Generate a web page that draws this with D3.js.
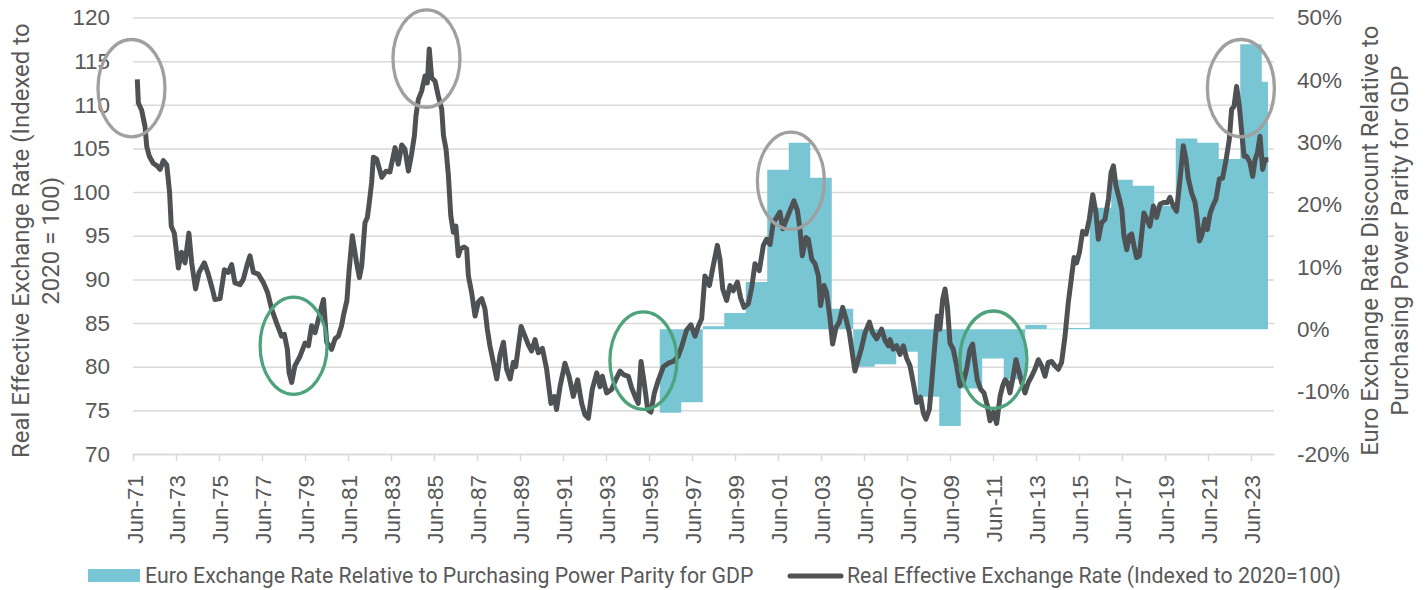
<!DOCTYPE html>
<html>
<head>
<meta charset="utf-8">
<script src="https://cdn.jsdelivr.net/npm/d3@7"></script>
<style>
    body { margin: 0; background: #fff; }
    svg { display: block; font-family: Roboto, "Open Sans", sans-serif; }
</style>
</head>
<body>
<svg id="chart"></svg>
<script>
// real effective exchange rate, index 2020 = 100 (decimal year, value)
const reerYears = [
    1971.70, 1971.75, 1971.90, 1972.06, 1972.14, 1972.26, 1972.44, 1972.62, 1972.76, 1972.91,
    1973.07, 1973.20, 1973.28, 1973.42, 1973.61, 1973.76, 1973.92, 1974.10, 1974.23, 1974.41,
    1974.57, 1974.82, 1975.00, 1975.19, 1975.31, 1975.55, 1975.75, 1975.93, 1976.09, 1976.24,
    1976.48, 1976.63, 1976.79, 1976.94, 1977.10, 1977.33, 1977.57, 1977.76, 1977.95, 1978.18,
    1978.41, 1978.54, 1978.68, 1978.76, 1978.88, 1979.03, 1979.27, 1979.50, 1979.66, 1979.81,
    1979.97, 1980.12, 1980.36, 1980.51, 1980.74, 1980.90, 1981.05, 1981.20, 1981.30, 1981.45,
    1981.55, 1981.70, 1981.90, 1982.03, 1982.14, 1982.29, 1982.40, 1982.49, 1982.60, 1982.68,
    1982.83, 1983.07, 1983.27, 1983.45, 1983.69, 1983.84, 1984.00, 1984.15, 1984.31, 1984.46,
    1984.59, 1984.66, 1984.77, 1984.93, 1985.08, 1985.19, 1985.28, 1985.39, 1985.55, 1985.70,
    1985.86, 1985.94, 1986.06, 1986.17, 1986.28, 1986.40, 1986.52, 1986.63, 1986.74, 1986.90,
    1987.02, 1987.10, 1987.25, 1987.41, 1987.56, 1987.72, 1987.87, 1987.98, 1988.10, 1988.26,
    1988.42, 1988.57, 1988.73, 1988.88, 1989.04, 1989.19, 1989.30, 1989.55, 1989.73, 1989.89,
    1990.04, 1990.20, 1990.35, 1990.54, 1990.74, 1990.94, 1991.10, 1991.20, 1991.36, 1991.59,
    1991.78, 1991.98, 1992.18, 1992.37, 1992.52, 1992.68, 1992.86, 1993.07, 1993.22, 1993.33,
    1993.53, 1993.76, 1993.95, 1994.15, 1994.31, 1994.54, 1994.69, 1994.85, 1995.00, 1995.13,
    1995.28, 1995.44, 1995.59, 1995.75, 1995.94, 1996.17, 1996.40, 1996.63, 1996.86, 1997.02,
    1997.25, 1997.45, 1997.64, 1997.79, 1997.95, 1998.10, 1998.31, 1998.49, 1998.68, 1998.80,
    1998.93, 1999.11, 1999.27, 1999.42, 1999.61, 1999.76, 1999.92, 2000.12, 2000.28, 2000.43,
    2000.63, 2000.82, 2000.97, 2001.13, 2001.28, 2001.44, 2001.59, 2001.72, 2001.93, 2002.06,
    2002.24, 2002.40, 2002.52, 2002.63, 2002.80, 2002.91, 2003.07, 2003.22, 2003.38, 2003.48,
    2003.64, 2003.76, 2003.92, 2004.04, 2004.20, 2004.35, 2004.51, 2004.66, 2004.82, 2004.93,
    2005.08, 2005.24, 2005.39, 2005.55, 2005.75, 2005.90, 2006.09, 2006.32, 2006.48, 2006.63,
    2006.71, 2006.86, 2007.02, 2007.17, 2007.33, 2007.48, 2007.64, 2007.79, 2007.95, 2008.13,
    2008.26, 2008.38, 2008.54, 2008.65, 2008.80, 2008.91, 2009.03, 2009.16, 2009.27, 2009.38,
    2009.50, 2009.65, 2009.81, 2009.96, 2010.12, 2010.27, 2010.43, 2010.55, 2010.66, 2010.77,
    2010.93, 2011.08, 2011.24, 2011.36, 2011.52, 2011.67, 2011.83, 2011.95, 2012.06, 2012.17,
    2012.29, 2012.44, 2012.57, 2012.68, 2012.83, 2012.99, 2013.14, 2013.30, 2013.45, 2013.61,
    2013.76, 2013.92, 2014.07, 2014.23, 2014.38, 2014.54, 2014.69, 2014.85, 2015.00, 2015.16,
    2015.27, 2015.39, 2015.52, 2015.67, 2015.83, 2015.98, 2016.14, 2016.29, 2016.40, 2016.55,
    2016.71, 2016.87, 2016.99, 2017.10, 2017.22, 2017.38, 2017.49, 2017.59, 2017.72, 2017.84,
    2017.95, 2018.06, 2018.18, 2018.31, 2018.42, 2018.52, 2018.65, 2018.80, 2018.96, 2019.11,
    2019.27, 2019.42, 2019.61, 2019.73, 2019.89, 2020.04, 2020.20, 2020.35, 2020.48, 2020.58,
    2020.74, 2020.90, 2021.00, 2021.10, 2021.21, 2021.36, 2021.47, 2021.60, 2021.72, 2021.87,
    2022.03, 2022.18, 2022.34, 2022.49, 2022.60, 2022.71, 2022.83, 2022.96, 2023.07, 2023.18,
    2023.30, 2023.45, 2023.58, 2023.69, 2023.80, 2023.92, 2024.04, 2024.15, 2024.31
];
const reerValues = [
    112.9, 110.2, 109.4, 107.5, 105.2, 104.1, 103.3, 103.0, 102.6, 103.6,
    103.1, 100.0, 96.1, 95.3, 91.3, 93.1, 91.9, 95.3, 91.9, 88.9,
    90.8, 91.9, 90.6, 88.9, 87.7, 87.8, 91.1, 90.8, 91.7, 89.6,
    89.4, 90.0, 91.5, 92.7, 90.8, 90.6, 89.6, 88.5, 86.6, 85.0,
    83.5, 83.7, 82.0, 79.3, 78.2, 80.1, 81.2, 82.7, 82.4, 84.7,
    83.9, 85.4, 87.7, 82.8, 82.0, 83.2, 83.5, 84.7, 86.0, 87.6,
    91.0, 95.0, 91.9, 90.2, 91.6, 96.5, 97.1, 98.8, 101.1, 104.0,
    103.8, 101.7, 102.4, 102.3, 105.1, 103.2, 105.4, 104.9, 102.4, 104.4,
    106.5, 108.7, 110.6, 111.6, 113.3, 112.5, 116.4, 113.1, 112.7, 111.0,
    109.5, 106.5, 104.9, 101.9, 97.3, 95.4, 96.1, 92.7, 93.5, 93.7,
    93.5, 90.4, 88.5, 85.8, 87.4, 87.8, 86.6, 84.3, 82.4, 80.5,
    78.6, 81.3, 82.8, 79.7, 78.6, 80.5, 80.0, 84.6, 83.5, 82.5,
    81.8, 83.1, 81.6, 82.1, 79.7, 75.8, 76.6, 75.1, 77.7, 80.4,
    78.9, 76.6, 78.5, 75.8, 74.5, 74.1, 77.4, 79.3, 77.7, 78.9,
    77.0, 77.4, 78.5, 79.5, 79.1, 78.9, 77.6, 76.6, 75.8, 80.6,
    78.1, 75.1, 74.8, 77.0, 78.5, 80.0, 80.4, 80.6, 81.2, 82.3,
    84.2, 84.8, 83.5, 84.6, 85.5, 90.4, 89.3, 91.6, 93.9, 92.3,
    88.9, 87.6, 89.3, 88.7, 89.7, 87.9, 86.8, 87.2, 89.1, 91.8,
    91.0, 93.9, 94.6, 94.0, 96.5, 97.1, 97.7, 95.8, 97.1, 97.9,
    99.0, 97.9, 95.8, 92.7, 94.8, 94.6, 92.3, 91.8, 90.4, 87.0,
    89.3, 88.5, 85.5, 82.6, 84.5, 85.1, 86.8, 85.5, 83.9, 82.0,
    79.5, 80.9, 82.2, 83.9, 85.1, 83.9, 83.2, 84.3, 83.0, 82.4,
    83.1, 82.0, 82.4, 81.4, 82.4, 81.0, 80.1, 78.2, 75.9, 76.5,
    74.7, 74.0, 75.1, 78.2, 82.7, 85.8, 84.3, 87.7, 88.9, 86.9,
    82.7, 82.0, 80.1, 77.8, 78.2, 79.7, 82.0, 82.6, 80.5, 78.5,
    77.4, 77.0, 75.5, 73.8, 74.8, 73.5, 76.6, 77.8, 78.5, 78.2,
    77.0, 78.9, 80.8, 79.7, 78.2, 77.0, 78.2, 78.9, 79.7, 80.8,
    80.1, 78.9, 80.5, 80.6, 80.1, 79.7, 80.5, 83.5, 87.3, 90.4,
    92.5, 91.9, 93.1, 95.5, 95.2, 96.9, 99.7, 97.6, 94.6, 96.5,
    96.9, 99.2, 102.2, 103.0, 100.7, 99.2, 98.0, 95.0, 93.4, 95.0,
    95.2, 93.8, 92.5, 92.7, 95.3, 97.6, 96.9, 96.1, 98.4, 97.1,
    98.6, 98.8, 98.8, 99.4, 98.4, 97.8, 101.5, 105.3, 103.7, 101.6,
    99.9, 98.8, 96.9, 94.4, 95.0, 96.9, 95.7, 97.6, 98.4, 99.2,
    101.5, 101.6, 103.7, 106.0, 109.5, 109.8, 112.1, 109.8, 106.8, 104.1,
    104.1, 103.4, 101.8, 103.7, 104.5, 106.4, 102.6, 103.7, 103.7
];

// euro exchange rate relative to PPP for GDP, one value per calendar year
const pppYears = [1996, 1997, 1998, 1999, 2000, 2001, 2002, 2003, 2004, 2005,
    2006, 2007, 2008, 2009, 2010, 2011, 2012, 2013, 2014, 2015,
    2016, 2017, 2018, 2019, 2020, 2021, 2022, 2023, 2024];
const pppValues = [-0.134, -0.117, 0.005, 0.026, 0.076, 0.256, 0.299, 0.243, 0.033, -0.060,
    -0.056, -0.036, -0.108, -0.155, -0.095, -0.047, -0.080, 0.007, 0.001, 0.002,
    0.195, 0.240, 0.230, 0.198, 0.306, 0.299, 0.273, 0.457, 0.397];
const pppLastYearEnd = 2024.29;

// axis ticks
const xTickYears = d3.range(1971, 2024, 2);
const leftTicks = [70, 75, 80, 85, 90, 95, 100, 105, 110, 115, 120];
const rightTicks = [-0.2, -0.1, 0, 0.1, 0.2, 0.3, 0.4, 0.5];

// circled turning points (year, index value, kind)
const markYears = [1971.43, 1985.15, 1978.97, 1995.24, 2002.10, 2011.52, 2023.03];
const markValues = [111.9, 115.3, 82.4, 80.7, 101.3, 80.8, 111.9];
const markKinds = ['high', 'high', 'low', 'low', 'high', 'low', 'high'];

// texts
const leftTitle = ['Real Effective Exchange Rate (Indexed to', '2020 = 100)'];
const rightTitle = ['Euro Exchange Rate Discount Relative to', 'Purchasing Power Parity for GDP'];
const areaLabel = 'Euro Exchange Rate Relative to Purchasing Power Parity for GDP';
const lineLabel = 'Real Effective Exchange Rate (Indexed to 2020=100)';

class ReerChart {
    constructor(_config, _data) {
        this.data = _data;

        // config object with defaults
        this.config = {
            parentElement: _config.parentElement || 'body',
            width: _config.width || 1425,
            height: _config.height || 590,
            margin: _config.margin || { top: 17.5, right: 151, bottom: 136, left: 133 }
        };

        this.initVis();
    }

    initVis() {
        const that = this;
        const m = that.config.margin;

        that.boundedWidth = that.config.width - m.left - m.right;
        that.boundedHeight = that.config.height - m.top - m.bottom;

        // x is in decimal years, Jun-71 sits on the left edge
        that.xScale = d3.scaleLinear()
            .domain([1971.5, 2024.57])
            .range([0, that.boundedWidth]);

        that.yLeft = d3.scaleLinear()
            .domain([70, 120])
            .range([that.boundedHeight, 0]);

        that.yRight = d3.scaleLinear()
            .domain([-0.2, 0.5])
            .range([that.boundedHeight, 0]);

        that.colors = { area: '#78c5d4', line: '#4f5255', text: '#595959', grid: '#d9d9d9',
            high: '#a0a0a0', low: '#4fa37c' };

        that.wrapper = d3.select(that.config.parentElement)
            .attr('width', that.config.width)
            .attr('height', that.config.height);

        that.bounds = that.wrapper.append('g')
            .attr('transform', `translate(${m.left}, ${m.top})`);

        that.gridG = that.bounds.append('g').attr('class', 'grid');
        that.areaG = that.bounds.append('g').attr('class', 'area');
        that.xAxisG = that.bounds.append('g')
            .attr('transform', `translate(0, ${that.boundedHeight})`);
        that.yLeftG = that.bounds.append('g');
        that.yRightG = that.bounds.append('g')
            .attr('transform', `translate(${that.boundedWidth}, 0)`);
        that.lineG = that.bounds.append('g').attr('class', 'line');
        that.markG = that.bounds.append('g').attr('class', 'marks');
        that.legendG = that.wrapper.append('g').attr('class', 'legend');
    }

    updateVis() {
        const that = this;

        that.lineData = d3.zip(that.data.reerYears, that.data.reerValues)
            .map(([year, value]) => ({ year, value }));

        // last year only runs to the latest month, so close the step there
        const vals = that.data.pppValues;
        that.areaData = d3.zip(that.data.pppYears, vals)
            .map(([year, value]) => ({ year, value }));
        that.areaData.push({ year: that.data.pppLastYearEnd, value: vals[vals.length - 1] });

        that.markData = that.data.markYears.map((year, i) => ({
            year, value: that.data.markValues[i], kind: that.data.markKinds[i]
        }));

        that.renderVis();
    }

    renderVis() {
        const that = this;
        const c = that.colors;

        // horizontal gridlines from the left axis
        that.gridG.call(d3.axisLeft(that.yLeft)
                .tickValues(leftTicks)
                .tickSize(-that.boundedWidth)
                .tickFormat(''))
            .call(g => g.select('.domain').remove())
            .selectAll('line')
            .attr('stroke', c.grid)
            .attr('stroke-width', 1.5);

        // step area on the right axis
        const area = d3.area()
            .x(d => that.xScale(d.year))
            .y0(that.yRight(0))
            .y1(d => that.yRight(d.value))
            .curve(d3.curveStepAfter);

        that.areaG.selectAll('path')
            .data([that.areaData])
            .join('path')
            .attr('d', area)
            .attr('fill', c.area);

        // x axis with rotated labels
        that.xAxisG.call(d3.axisBottom(that.xScale)
                .tickValues(xTickYears.map(y => y + 0.5))
                .tickFormat(d => 'Jun-' + String(Math.floor(d)).slice(2))
                .tickSize(7)
                .tickSizeOuter(0))
            .call(g => g.select('.domain').attr('stroke', c.grid).attr('stroke-width', 1.5))
            .call(g => g.selectAll('.tick line').attr('stroke', c.grid).attr('stroke-width', 1.5));

        that.xAxisG.selectAll('.tick text')
            .attr('transform', 'rotate(-90)')
            .attr('text-anchor', 'end')
            .attr('x', -21)
            .attr('y', 0)
            .attr('dy', '0.4em')
            .attr('fill', c.text)
            .style('font-size', '22.5px');

        that.yLeftG.call(d3.axisLeft(that.yLeft)
                .tickValues(leftTicks)
                .tickSize(0)
                .tickPadding(23))
            .call(g => g.select('.domain').remove())
            .selectAll('text')
            .attr('fill', c.text)
            .style('font-size', '22.5px');

        that.yRightG.call(d3.axisRight(that.yRight)
                .tickValues(rightTicks)
                .tickFormat(d => Math.round(d * 100) + '%')
                .tickSize(0)
                .tickPadding(23))
            .call(g => g.select('.domain').remove())
            .selectAll('text')
            .attr('fill', c.text)
            .style('font-size', '22.5px');

        // REER line
        const line = d3.line()
            .x(d => that.xScale(d.year))
            .y(d => that.yLeft(d.value));

        that.lineG.selectAll('path')
            .data([that.lineData])
            .join('path')
            .attr('d', line)
            .attr('fill', 'none')
            .attr('stroke', c.line)
            .attr('stroke-width', 5)
            .attr('stroke-linejoin', 'round');

        // circles around highs and lows
        that.markG.selectAll('ellipse')
            .data(that.markData)
            .join('ellipse')
            .attr('cx', d => that.xScale(d.year))
            .attr('cy', d => that.yLeft(d.value))
            .attr('rx', 33.5)
            .attr('ry', 48.7)
            .attr('fill', 'none')
            .attr('stroke', d => c[d.kind])
            .attr('stroke-width', 3.3);

        // axis titles
        const midY = that.config.margin.top + that.boundedHeight / 2 + 5;
        that.wrapper.selectAll('text.left-title')
            .data(leftTitle)
            .join('text')
            .attr('class', 'left-title')
            .attr('transform', (d, i) => `translate(${29 + i * 29.5}, ${midY}) rotate(-90)`)
            .attr('text-anchor', 'middle')
            .attr('fill', c.text)
            .style('font-size', '24px')
            .text(d => d);

        that.wrapper.selectAll('text.right-title')
            .data(rightTitle)
            .join('text')
            .attr('class', 'right-title')
            .attr('transform', (d, i) => `translate(${1378 + i * 30}, ${midY}) rotate(-90)`)
            .attr('text-anchor', 'middle')
            .attr('fill', c.text)
            .style('font-size', '24px')
            .text(d => d);

        // legend
        that.legendG.append('rect')
            .attr('x', 88).attr('y', 569)
            .attr('width', 52).attr('height', 13)
            .attr('fill', c.area);
        that.legendG.append('text')
            .attr('x', 145).attr('y', 583)
            .attr('fill', c.text)
            .style('font-size', '21.3px')
            .text(areaLabel);
        that.legendG.append('line')
            .attr('x1', 790).attr('x2', 841)
            .attr('y1', 576).attr('y2', 576)
            .attr('stroke', c.line)
            .attr('stroke-width', 5)
            .attr('stroke-linecap', 'round');
        that.legendG.append('text')
            .attr('x', 847).attr('y', 583)
            .attr('fill', c.text)
            .style('font-size', '21.3px')
            .text(lineLabel);
    }
}

const chart = new ReerChart({ parentElement: '#chart' },
    { reerYears, reerValues, pppYears, pppValues, pppLastYearEnd, markYears, markValues, markKinds });
chart.updateVis();
</script>
</body>
</html>
